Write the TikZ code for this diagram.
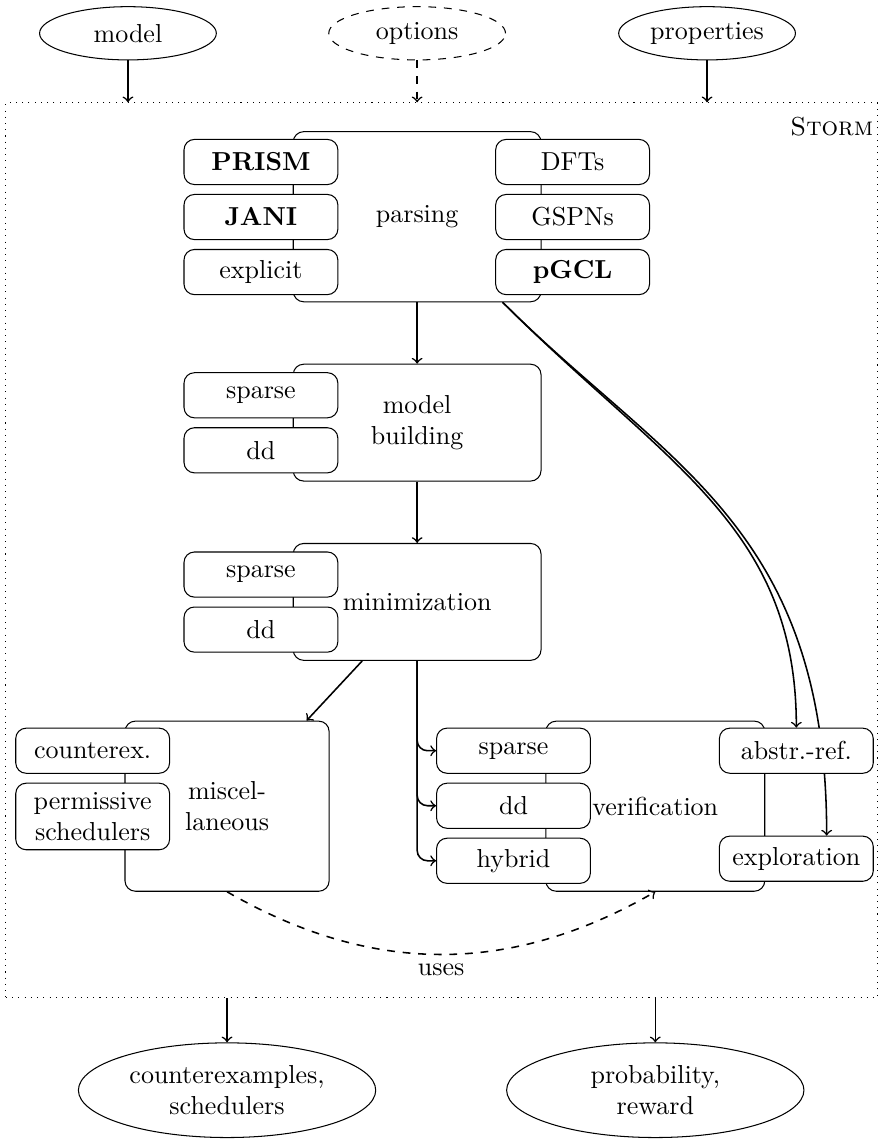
\documentclass[tikz,border=0pt]{standalone}
\usetikzlibrary{shapes,positioning,backgrounds}

\begin{document}
\begin{tikzpicture}[->,semithick,node distance=1.2mm,
    io/.style={ellipse,draw,thin,inner sep=0pt,minimum width=2.39cm,minimum height=0.72cm},
    result/.style={io,align=center,minimum width=4.02cm,minimum height=1.28cm},
    phase/.style={rectangle,rounded corners,draw,thin,fill=white,align=center,
                  minimum width=3.35cm,minimum height=2.3cm},
    part/.style={rectangle,rounded corners,draw,thin,fill=white,align=center,
                 inner sep=2pt,minimum width=2.08cm,minimum height=0.61cm}]

  \useasboundingbox (0,0) rectangle (11.88,-15.40);

  % inputs
  \node[io]        (model)   at (1.73,-0.45) {model};
  \node[io,dashed] (options) at (5.64,-0.45) {options};
  \node[io]        (props)   at (9.56,-0.45) {properties};

  \node[draw,thin,dotted,inner sep=0pt,minimum width=11.78cm,minimum height=12.10cm] (storm) at (5.97,-7.44) {};
  \node[anchor=north east,inner sep=0pt] (name) at ([xshift=-0.05cm,yshift=-0.19cm]storm.north east) {\textsc{Storm}};

  % parsing
  \node[phase] (parsing) at (5.64,-2.93) {parsing};
  \node[part] (prism) at ([xshift=-0.43cm,yshift=0.74cm]parsing.west) {\textbf{PRISM}};
  \node[part] (jani) [below=of prism] {\textbf{JANI}};
  \node[part] (explicit) [below=of jani] {explicit};
  \node[part] (dft) at ([xshift=0.42cm,yshift=0.74cm]parsing.east) {DFTs};
  \node[part] (gspn) [below=of dft] {GSPNs};
  \node[part] (pgcl) [below=of gspn] {\textbf{pGCL}};

  % model building
  \node[phase,minimum height=1.58cm] (building) [below=0.83cm of parsing] {model\\building};
  \node[part] (bsparse) at ([xshift=-0.43cm,yshift=0.37cm]building.west) {sparse};
  \node[part] (bdd) [below=of bsparse] {dd};

  % minimization
  \node[phase,minimum height=1.58cm] (minim) [below=0.83cm of building] {minimization};
  \node[part] (msparse) at ([xshift=-0.43cm,yshift=0.37cm]minim.west) {sparse};
  \node[part] (mdd) [below=of msparse] {dd};

  % miscellaneous
  \node[phase,minimum width=2.76cm] (misc) at (3.07,-10.90) {miscel-\\laneous};
  \node[part] (counterex) at ([xshift=-0.43cm,yshift=0.75cm]misc.west) {counterex.};
  \node[part,minimum height=0.9cm] (permissive) [below=of counterex] {permissive\\schedulers};

  % verification
  \node[phase,minimum width=2.96cm] (verif) at (8.86,-10.90) {verification};
  \node[part] (vsparse) at ([xshift=-0.43cm,yshift=0.75cm]verif.west) {sparse};
  \node[part] (vdd) [below=of vsparse] {dd};
  \node[part] (hybrid) [below=of vdd] {hybrid};
  \node[part] (absref) at ([xshift=0.42cm,yshift=0.75cm]verif.east) {abstr.-ref.};
  \node[part] (explore) at ([xshift=0.42cm,yshift=-0.71cm]verif.east) {exploration};

  % outputs
  \node[result] (cexsched) at (3.07,-14.74) {counterexamples,\\schedulers};
  \node[result] (probrew)  at (8.86,-14.74) {probability,\\reward};

  \draw (model) -- (model |- storm.north);
  \draw[dashed] (options) -- (options |- storm.north);
  \draw (props) -- (props |- storm.north);

  \draw (parsing) -- (building);
  \draw (building) -- (minim);
  \draw (minim) -- (misc);
  \draw[rounded corners] (minim) |- (vsparse);
  \draw[rounded corners] (minim) |- (vdd);
  \draw[rounded corners] (minim) |- (hybrid);
  \draw[dashed] (misc.south) to[bend right=30] node[below] {uses} (verif.south);

  \draw (cexsched |- storm.south) -- (cexsched);
  \draw (probrew |- storm.south) -- (probrew);

  % the second curve runs behind abstr.-ref.
  \begin{scope}[on background layer]
    \draw[->,semithick] (parsing) to[out=-45,in=90,out looseness=1.13] (absref);
    \draw[->,semithick] (parsing) to[out=-45,in=90,out looseness=0.94,in looseness=1.27] ([xshift=0.41cm]explore.north);
  \end{scope}
\end{tikzpicture}
\end{document}
